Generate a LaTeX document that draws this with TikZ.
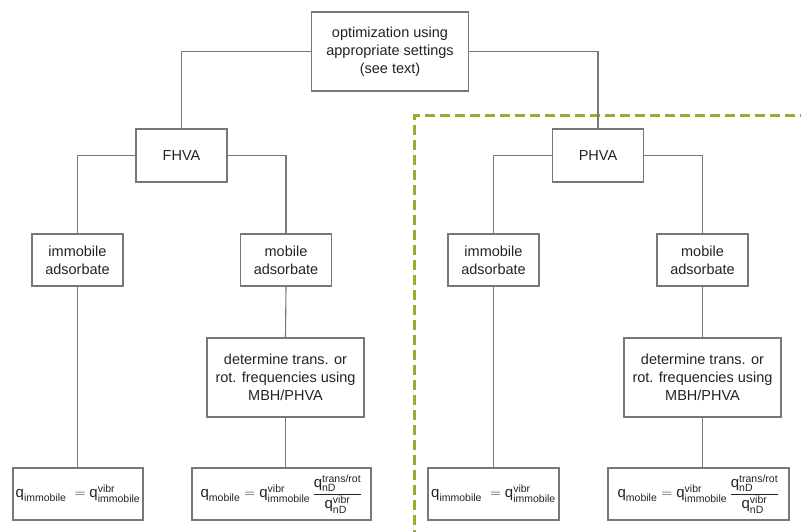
\documentclass[tikz,border=0pt]{standalone}
\usepackage{amsmath}
\usepackage{fontspec}
\setmainfont{Liberation Sans}
\definecolor{linegray}{RGB}{120,120,120}
\definecolor{txtgray}{RGB}{35,35,35}
\definecolor{phvagreen}{RGB}{145,175,50}
\newcommand{\tq}[1]{\text{#1}}
\tikzset{
  box/.style={draw=linegray, line width=1.1pt, text=txtgray, align=center,
    inner sep=0pt, font=\fontsize{14.5}{18}\selectfont},
  smallbox/.style={box, minimum width=91pt, minimum height=52pt},
  bigbox/.style={box, minimum width=157pt, minimum height=79pt},
  qbox/.style={box, minimum height=52pt, font=\fontsize{15}{18}\selectfont},
  link/.style={draw=linegray, line width=1.1pt}
}
\begin{document}
\begin{tikzpicture}[x=1pt, y=-1pt]
  \useasboundingbox (0,0) rectangle (801,532);
  % FHVA / PHVA split
  \draw[phvagreen, line width=3pt, dash pattern=on 10pt off 5pt]
    (414,540) -- (414,116) -- (810,116);

  \node[bigbox] (opt) at (390,51.5) {optimization using\\appropriate settings\\(see text)};

  \node[smallbox, minimum height=53pt] (fhva) at (181.5,155.5) {FHVA};
  \node[smallbox, minimum height=53pt] (phva) at (598,155.5) {PHVA};

  \node[smallbox] (immF) at (77.5,260) {immobile\\adsorbate};
  \node[smallbox] (mobF) at (286,260) {mobile\\adsorbate};
  \node[smallbox] (immP) at (493.5,260) {immobile\\adsorbate};
  \node[smallbox] (mobP) at (702.5,260) {mobile\\adsorbate};

  \node[bigbox] (detF) at (285.5,377.5) {determine trans. or\\rot. frequencies using\\MBH/PHVA};
  \node[bigbox] (detP) at (702.5,377.5) {determine trans. or\\rot. frequencies using\\MBH/PHVA};

  \node[qbox, minimum width=130pt] (qimmF) at (78,494)
    {$\tq{q}_{\tq{immobile}}\;=\tq{q}^{\tq{vibr}}_{\tq{immobile}}$};
  \node[qbox, minimum width=179pt] (qmobF) at (281.5,494)
    {$\tq{q}_{\tq{mobile}}=\tq{q}^{\tq{vibr}}_{\tq{immobile}}\,
      \dfrac{\tq{q}^{\tq{trans/rot}}_{\tq{nD}}}{\tq{q}^{\tq{vibr}}_{\tq{nD}}}$};
  \node[qbox, minimum width=131pt] (qimmP) at (493.5,494)
    {$\tq{q}_{\tq{immobile}}\;=\tq{q}^{\tq{vibr}}_{\tq{immobile}}$};
  \node[qbox, minimum width=181pt] (qmobP) at (698.5,494)
    {$\tq{q}_{\tq{mobile}}=\tq{q}^{\tq{vibr}}_{\tq{immobile}}\,
      \dfrac{\tq{q}^{\tq{trans/rot}}_{\tq{nD}}}{\tq{q}^{\tq{vibr}}_{\tq{nD}}}$};

  \begin{scope}[link]
    \draw (opt.west) -| (fhva.north);
    \draw (opt.east) -| (phva.north);
    \draw (fhva.west) -| (immF.north);
    \draw (fhva.east) -| (mobF.north);
    \draw (phva.west) -| (immP.north);
    \draw (phva.east) -| (mobP.north);
    \draw (immF.south) -- (immF.south |- qimmF.north);
    \draw (mobF.south) -- (detF.north);
    \draw (detF.south) -- (detF.south |- qmobF.north);
    \draw (immP.south) -- (immP.south |- qimmP.north);
    \draw (mobP.south) -- (detP.north);
    \draw (detP.south) -- (detP.south |- qmobP.north);
  \end{scope}
\end{tikzpicture}
\end{document}
